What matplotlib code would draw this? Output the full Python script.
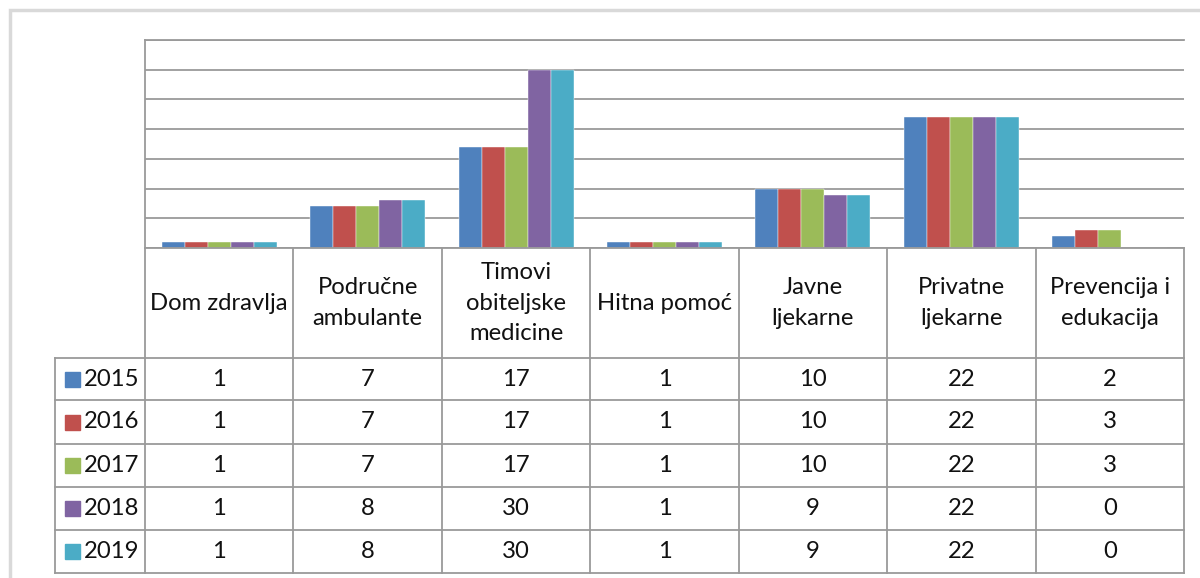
import matplotlib
matplotlib.use("Agg")
import matplotlib.pyplot as plt
from matplotlib.patches import Rectangle
from matplotlib.lines import Line2D
import numpy as np

# data
categories = ["Dom zdravlja", "Područne\nambulante", "Timovi\nobiteljske\nmedicine",
              "Hitna pomoć", "Javne\nljekarne", "Privatne\nljekarne", "Prevencija i\nedukacija"]
years = ["2015", "2016", "2017", "2018", "2019"]
values = [
    [1, 7, 17, 1, 10, 22, 2],
    [1, 7, 17, 1, 10, 22, 3],
    [1, 7, 17, 1, 10, 22, 3],
    [1, 8, 30, 1, 9, 22, 0],
    [1, 8, 30, 1, 9, 22, 0],
]
colors = ["#4F81BD", "#C0504D", "#9BBB59", "#8064A2", "#4BACC6"]

plt.rcParams["font.family"] = ["Lato", "DejaVu Sans"]
W, H = 1200, 578
fig = plt.figure(figsize=(12, 5.78), dpi=100)
grid = "#9a9a9a"

def fx(px):
    return px / W

def fy(py):
    return 1 - py / H

# outer chart frame
fig.patches.append(Rectangle((fx(10), fy(700)), fx(1300), fy(10) - fy(700),
                             transform=fig.transFigure, fill=False,
                             edgecolor="#d9d9d9", linewidth=2.5))

# plot area
left, right, top, base = 145, 1184, 40, 248
ax = fig.add_axes([fx(left), fy(base), fx(right - left), fy(top) - fy(base)])
n = len(categories)
x = np.arange(n)
bw = 0.155
for i, (yr, vals) in enumerate(zip(years, values)):
    ax.bar(x + (i - 2) * bw, vals, bw, color=colors[i], edgecolor="white",
           linewidth=0.3, zorder=3)
ax.set_xlim(-0.5, n - 0.5)
ax.set_ylim(0, 35)
ax.set_yticks(np.arange(0, 36, 5))
ax.yaxis.grid(True, color=grid, linewidth=1.3, zorder=0)
ax.tick_params(left=False, bottom=False, labelleft=False, labelbottom=False)
for s in ["right", "bottom"]:
    ax.spines[s].set_visible(False)
ax.spines["top"].set_color(grid)
ax.spines["top"].set_linewidth(1.3)
ax.spines["left"].set_color(grid)
ax.spines["left"].set_linewidth(1.3)

# data table below
tleft, tbot = 55, 573
tax = fig.add_axes([fx(tleft), fy(tbot), fx(right - tleft), fy(base) - fy(tbot)])
unit = (right - left) / n
tax.set_xlim(-0.5 - (left - tleft) / unit, n - 0.5)
tax.set_ylim(tbot - base, 0)
tax.axis("off")
header_h = 110
row_edges = [header_h, 152, 196, 239, 282, tbot - base]

def hline(y, x0, x1):
    tax.add_line(Line2D([x0, x1], [y, y], color=grid, linewidth=1.3, clip_on=False))

def vline(xv, y0, y1):
    tax.add_line(Line2D([xv, xv], [y0, y1], color=grid, linewidth=1.3, clip_on=False))

x_leg = -0.5 - (left - tleft) / unit
hline(0, -0.5, n - 0.5)
for y in row_edges:
    hline(y, x_leg, n - 0.5)
for k in range(n + 1):
    vline(k - 0.5, 0, tbot - base)
vline(x_leg, header_h, tbot - base)

fs = 17.2
tc = "#111111"
for j, cat in enumerate(categories):
    tax.text(j, header_h / 2, cat, ha="center", va="center", fontsize=fs,
             color=tc, linespacing=1.55)
for i, yr in enumerate(years):
    yc = (row_edges[i] + row_edges[i + 1]) / 2
    tax.add_patch(Rectangle((x_leg + 10 / unit, yc - 7.5), 15 / unit, 15,
                            color=colors[i], clip_on=False))
    tax.text(x_leg + 29 / unit, yc, yr, ha="left", va="center", fontsize=fs,
             color=tc)
    for j, v in enumerate(values[i]):
        tax.text(j, yc, str(v), ha="center", va="center", fontsize=fs,
                 color=tc)

fig.savefig("out.png", dpi=100)
